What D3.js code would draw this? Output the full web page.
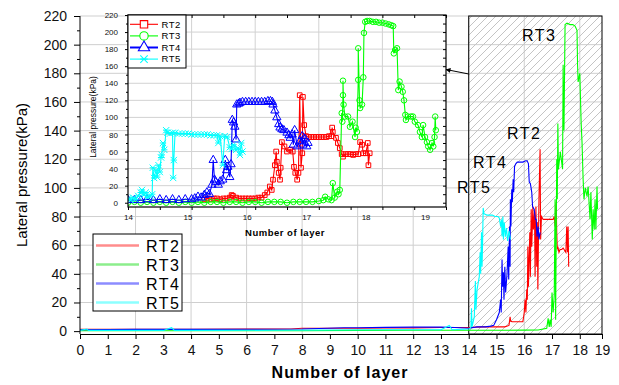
<!DOCTYPE html>
<html>
<head>
<meta charset="utf-8">
<script src="https://cdn.jsdelivr.net/npm/d3@7"></script>
<style>
body { margin: 0; background: #fff; }
svg { font-family: 'Liberation Sans', Arial, sans-serif; }
</style>
</head>
<body>
<svg id="chart" width="619" height="385"></svg>
<script>
// series
var seriesNames = ['RT2', 'RT3', 'RT4', 'RT5'];
var seriesColors = ['#ff0000', '#00ff00', '#0000ff', '#00ffff'];
var legendColors = ['#ff8c8c', '#8cee8c', '#8c8cff', '#8cffff'];
var fontFamily = "'Liberation Sans', Arial, sans-serif";

// main chart: lateral pressure (kPa) vs number of layer
var mainRT2 = [[0,1.3],[2,1.3],[4,1.3],[6,1.4],[7.6,1.5],[8,2],[9,2],[10,2],[11,2.3],[12,2.3],[13,2.5],[14,2.5],
    [14.5,3],[15.0,3],[15.3,3],[15.45,4],[15.49,10],[15.51,7],[15.56,6.6],[15.8,6.6],[15.95,6.6],[16.0,13],[16.03,22],
    [16.06,13],[16.09,29],[16.11,22],[16.13,59],[16.15,31],[16.2,69],[16.22,38],[16.25,85],[16.27,59],[16.31,87],
    [16.33,71],[16.37,83],[16.39,38],[16.42,87],[16.45,45],[16.47,76],[16.49,29],[16.53,92],[16.57,127],[16.59,64],
    [16.62,80],[16.68,78],[16.8,78],[16.9,78],[17.04,78],[17.08,80],[17.11,73],[17.15,90],[17.17,69],[17.19,57],
    [17.21,59],[17.25,55],[17.29,57],[17.35,57],[17.4,58],[17.5,55],[17.53,73],[17.56,55],[17.58,73],[17.6,45]];
var mainRT3 = [[0,0.3],[2,0.3],[4,0.3],[6,0.3],[8,0.3],[10,0.5],[12,0.6],[14,0.6],[15,0.6],[16,0.7],[16.5,0.8],
    [16.81,2],[16.86,9],[16.9,3],[16.93,8],[16.97,3],[17.0,27],[17.04,13],[17.08,25],[17.11,92],[17.13,8],[17.17,120],
    [17.19,92],[17.21,145],[17.23,113],[17.3,125],[17.38,113],[17.4,186],[17.43,140],[17.47,214],[17.54,215],
    [17.65,214],[17.75,214],[17.83,213],[17.9,210],[17.92,186],[17.94,174],[18.0,180],[18.05,145],[18.08,132],
    [18.12,106],[18.15,92],[18.2,100],[18.26,94],[18.3,101],[18.37,78],[18.4,97],[18.45,64],[18.48,85],[18.52,71],
    [18.55,92],[18.58,71],[18.62,101],[18.64,85]];
var mainRT4 = [[0,1],[2,1.2],[4,1.2],[6,1.3],[8,1.5],[9.5,2.4],[10,2.4],[11,2.6],[12,2.8],[13,2.8],[13.5,2.5],[14,2],
    [14.3,3],[14.6,3],[14.8,3.5],[14.9,4],[15.0,8],[15.1,13],[15.15,22],[15.17,13],[15.2,50],[15.22,31],[15.25,41],
    [15.27,22],[15.3,45],[15.33,27],[15.38,40],[15.42,59],[15.44,36],[15.47,73],[15.49,45],[15.5,92],[15.52,73],
    [15.55,99],[15.57,90],[15.6,106],[15.62,97],[15.65,115],[15.7,117],[15.75,118],[15.85,118],[15.95,118],
    [16.05,119],[16.1,119],[16.15,117],[16.18,104],[16.22,103],[16.27,97],[16.3,87],[16.36,85],[16.4,78],
    [16.43,78],[16.46,66],[16.5,73],[16.53,64],[16.57,69]];
var mainRT5 = [[0,0.5],[0.25,1.5],[0.3,0.5],[1,0.5],[3,0.5],[3.3,2.4],[3.4,0.5],[5,0.5],[7,0.6],[9,0.8],[11,1],
    [13,1],[13.3,4],[13.4,1],[14,1.5],[14.05,2],[14.08,3],[14.1,16],[14.12,3],[14.2,10],[14.24,35],[14.26,15],
    [14.3,29],[14.38,38],[14.41,55],[14.43,40],[14.46,69],[14.48,45],[14.5,62],[14.52,86],[14.55,82],[14.65,81],
    [14.75,81],[14.85,81],[14.95,80],[15.05,80],[15.1,79],[15.15,73],[15.18,78],[15.2,66],[15.23,80],[15.25,64],
    [15.28,76],[15.32,66],[15.36,72],[15.4,63],[15.45,70],[15.5,64]];

// inset: close-up of layers 14-19
var insetRT2 = [[15.2,4],[15.25,5],[15.3,4],[15.35,5],[15.4,5],[15.45,4],[15.5,5],[15.55,5],[15.6,6],[15.63,9],
    [15.65,8],[15.7,6],[15.75,5],[15.8,5],[15.85,5],[15.9,5],[15.95,5],[16.0,5],[16.05,6],[16.1,6],[16.15,9],
    [16.19,12],[16.23,19],[16.26,15],[16.28,27],[16.31,44],[16.33,60],[16.34,48],[16.37,35],[16.39,27],[16.4,41],
    [16.42,71],[16.46,66],[16.5,60],[16.55,62],[16.59,60],[16.61,42],[16.63,35],[16.66,27],[16.68,35],[16.7,126],
    [16.72,41],[16.74,58],[16.75,124],[16.77,91],[16.8,78],[16.84,77],[16.88,77],[16.92,77],[16.96,77],[17.0,77],
    [17.04,77],[17.08,77],[17.12,77],[17.16,78],[17.2,78],[17.21,88],[17.22,83],[17.27,76],[17.3,70],[17.33,64],
    [17.36,57],[17.38,54],[17.42,57],[17.46,57],[17.5,57],[17.54,56],[17.58,57],[17.62,57],[17.65,71],[17.68,68],
    [17.7,58],[17.74,58],[17.77,70],[17.78,44],[17.8,58]];
var insetRT3 = [[14.0,0],[14.1,1],[14.2,0],[14.3,1],[14.4,0],[14.5,1],[14.6,0],[14.7,1],[14.8,0],[14.9,1],[15.0,0],
    [15.1,1],[15.2,0],[15.3,1],[15.4,1],[15.5,0],[15.6,1],[15.7,1],[15.8,0],[15.9,1],[16.0,1],[16.1,0],[16.2,1],
    [16.3,1],[16.4,1],[16.5,0],[16.6,1],[16.7,1],[16.8,1],[16.9,1],[17.0,2],[17.07,3],[17.1,7],[17.15,4],[17.2,3],
    [17.22,23],[17.25,6],[17.29,13],[17.31,10],[17.33,15],[17.36,105],[17.37,95],[17.38,126],[17.38,143],
    [17.39,115],[17.41,101],[17.46,101],[17.49,89],[17.53,95],[17.57,77],[17.58,88],[17.6,83],[17.62,144],
    [17.62,181],[17.64,120],[17.65,111],[17.68,115],[17.7,147],[17.71,199],[17.73,212],[17.76,213],[17.8,213],
    [17.85,212],[17.9,212],[17.95,211],[18.0,211],[18.05,210],[18.1,209],[18.14,208],[18.17,207],[18.18,175],
    [18.2,179],[18.23,181],[18.25,132],[18.27,142],[18.3,136],[18.32,130],[18.34,120],[18.36,103],[18.37,97],
    [18.4,101],[18.45,101],[18.48,101],[18.51,95],[18.56,91],[18.59,83],[18.62,77],[18.64,91],[18.67,77],
    [18.7,71],[18.72,66],[18.75,62],[18.78,70],[18.8,66],[18.82,77],[18.83,101],[18.84,85]];
var insetRT4 = [[14.0,3],[14.1,3],[14.2,3],[14.3,4],[14.4,3],[14.5,4],[14.6,3],[14.7,4],[14.8,3],[14.9,4],[15.0,4],
    [15.05,5],[15.1,7],[15.15,6],[15.2,9],[15.24,12],[15.28,10],[15.32,21],[15.34,50],[15.36,27],[15.38,24],
    [15.42,21],[15.45,25],[15.49,27],[15.53,50],[15.55,38],[15.57,42],[15.6,30],[15.62,45],[15.64,97],[15.66,94],
    [15.68,89],[15.7,74],[15.71,115],[15.74,116],[15.76,117],[15.8,118],[15.85,118],[15.9,118],[15.95,118],
    [16.0,118],[16.05,118],[16.1,118],[16.15,118],[16.2,119],[16.24,119],[16.27,118],[16.28,115],[16.31,108],
    [16.34,100],[16.37,92],[16.39,88],[16.42,86],[16.45,85],[16.5,82],[16.53,79],[16.55,76],[16.58,80],[16.6,68],
    [16.62,85],[16.66,66],[16.7,72],[16.74,78],[16.75,68],[16.78,75],[16.81,66],[16.83,70]];
var insetRT5 = [[14.0,5],[14.04,3],[14.08,6],[14.12,4],[14.16,8],[14.2,12],[14.22,15],[14.25,9],[14.28,12],
    [14.31,6],[14.35,8],[14.38,10],[14.39,41],[14.41,29],[14.44,38],[14.46,30],[14.48,44],[14.5,36],[14.52,53],
    [14.53,56],[14.55,70],[14.57,62],[14.6,85],[14.62,82],[14.66,81],[14.7,82],[14.71,29],[14.72,50],[14.74,82],
    [14.8,81],[14.85,81],[14.9,81],[14.95,81],[15.0,80],[15.05,80],[15.1,80],[15.15,80],[15.2,80],[15.25,80],
    [15.3,79],[15.35,79],[15.4,79],[15.42,70],[15.45,78],[15.49,44],[15.52,78],[15.56,77],[15.6,65],[15.63,63],
    [15.66,68],[15.7,62],[15.73,64],[15.76,56],[15.78,70],[15.8,60]];

// ticks
var mainXTicks = [0,1,2,3,4,5,6,7,8,9,10,11,12,13,14,15,16,17,18,18.8];
var mainXTickLabels = ['0','1','2','3','4','5','6','7','8','9','10','11','12','13','14','15','16','17','18','19'];
var mainYTicks = [0,20,40,60,80,100,120,140,160,180,200,220];
var mainXGrid = [2,4,6,8,10,12,14,16,18];
var insetXTicks = [14,15,16,17,18,19];
var insetYTicks = [0,20,40,60,80,100,120,140,160,180,200,220];

var svg = d3.select('#chart');

var x = d3.scaleLinear().domain([0, 18.8]).range([80, 602]);
var y = d3.scaleLinear().domain([-2, 220]).range([334, 16]);

var mainSeries = [mainRT2, mainRT3, mainRT4, mainRT5];
var insetSeries = [insetRT2, insetRT3, insetRT4, insetRT5];

var defs = svg.append('defs');
var hatch = defs.append('pattern')
    .attr('id', 'hatch')
    .attr('patternUnits', 'userSpaceOnUse')
    .attr('width', 8)
    .attr('height', 8);
hatch.append('path')
    .attr('d', 'M-2,2 l4,-4 M0,8 l8,-8 M6,10 l4,-4')
    .attr('stroke', '#c4c4c4')
    .attr('stroke-width', 1);

defs.append('clipPath').attr('id', 'mainClip')
    .append('rect').attr('x', 80).attr('y', 16).attr('width', 522).attr('height', 318);

defs.append('marker')
    .attr('id', 'arrow')
    .attr('viewBox', '0 0 10 10')
    .attr('refX', 9).attr('refY', 5)
    .attr('markerWidth', 7).attr('markerHeight', 5)
    .attr('markerUnits', 'userSpaceOnUse')
    .attr('orient', 'auto')
    .append('path').attr('d', 'M0,0 L10,5 L0,10 z').attr('fill', '#000');

// ---- main chart ----
var grid = svg.append('g').attr('stroke', '#cfcfcf').attr('stroke-width', 1);
grid.selectAll('.hg').data(mainYTicks.slice(1)).enter().append('line')
    .attr('x1', 80).attr('x2', 602)
    .attr('y1', function(d) { return y(d); })
    .attr('y2', function(d) { return y(d); });
grid.selectAll('.vg').data(mainXGrid).enter().append('line')
    .attr('x1', function(d) { return x(d); })
    .attr('x2', function(d) { return x(d); })
    .attr('y1', 16).attr('y2', 334);

// hatched zoom region
svg.append('rect')
    .attr('x', x(14)).attr('y', y(220))
    .attr('width', 602 - x(14)).attr('height', 334 - y(220))
    .attr('fill', 'url(#hatch)')
    .attr('stroke', '#000')
    .attr('stroke-width', 1);

var line = d3.line()
    .x(function(d) { return x(d[0]); })
    .y(function(d) { return y(d[1]); });

var mainLines = svg.append('g').attr('clip-path', 'url(#mainClip)');
mainSeries.forEach(function(s, i) {
    mainLines.append('path').datum(s)
        .attr('d', line)
        .attr('fill', 'none')
        .attr('stroke', seriesColors[i])
        .attr('stroke-width', 1.1);
});

var xAxis = svg.append('g')
    .attr('transform', 'translate(0,334)')
    .call(d3.axisBottom(x).tickValues(mainXTicks)
        .tickFormat(function(d, i) { return mainXTickLabels[i]; })
        .tickSize(5).tickSizeOuter(0).tickPadding(6));
xAxis.selectAll('text').attr('font-size', 14).attr('fill', '#111').attr('font-family', fontFamily);

var yAxis = svg.append('g')
    .attr('transform', 'translate(80,0)')
    .call(d3.axisLeft(y).tickValues(mainYTicks).tickSize(6).tickSizeOuter(0).tickPadding(7));
yAxis.selectAll('text').attr('font-size', 14).attr('fill', '#111').attr('font-family', fontFamily);
yAxis.select('.domain').attr('d', 'M0,' + y(220) + 'V334');
svg.append('g')
    .attr('transform', 'translate(80,0)')
    .call(d3.axisLeft(y).tickValues(mainYTicks.map(function(d) { return d + 10; }).slice(0, 11))
        .tickSize(3).tickFormat(''))
    .select('.domain').remove();

svg.append('text')
    .attr('x', 340).attr('y', 378)
    .attr('text-anchor', 'middle')
    .attr('font-size', 16).attr('font-weight', 'bold')
    .attr('letter-spacing', 1)
    .text('Number of layer');

svg.append('text')
    .attr('transform', 'translate(27,175) rotate(-90)')
    .attr('text-anchor', 'middle')
    .attr('font-size', 15)
    .text('Lateral pressure(kPa)');

// main legend
var legend = svg.append('g');
legend.append('rect')
    .attr('x', 93).attr('y', 234).attr('width', 89).attr('height', 77)
    .attr('fill', '#fff').attr('stroke', '#000');
seriesNames.forEach(function(name, i) {
    var cy = 245.5 + i * 19;
    legend.append('line')
        .attr('x1', 96).attr('x2', 139).attr('y1', cy).attr('y2', cy)
        .attr('stroke', legendColors[i]).attr('stroke-width', 2.5);
    legend.append('text')
        .attr('x', 146).attr('y', cy + 6)
        .attr('font-size', 16).attr('letter-spacing', 1.5)
        .text(name);
});

// curve labels in the hatched region
var curveLabels = [['RT3', 522, 41], ['RT2', 507, 139], ['RT4', 473, 168], ['RT5', 457, 193]];
svg.selectAll('.clabel').data(curveLabels).enter().append('text')
    .attr('x', function(d) { return d[1]; })
    .attr('y', function(d) { return d[2]; })
    .attr('font-size', 16).attr('letter-spacing', 1.5)
    .text(function(d) { return d[0]; });

svg.append('line')
    .attr('x1', x(14)).attr('y1', 74).attr('x2', 446).attr('y2', 69.5)
    .attr('stroke', '#000').attr('stroke-width', 1)
    .attr('marker-end', 'url(#arrow)');

// ---- inset ----
var xi = d3.scaleLinear().domain([14, 19]).range([128, 446]);
var xiLabel = d3.scaleLinear().domain([14, 19]).range([128, 425]);
var yi = d3.scaleLinear().domain([-5, 220]).range([207, 15]);

defs.append('clipPath').attr('id', 'insetClip')
    .append('rect').attr('x', 128).attr('y', 15).attr('width', 318).attr('height', 192);

var inset = svg.append('g');
inset.append('rect')
    .attr('x', 128).attr('y', 15).attr('width', 318).attr('height', 192)
    .attr('fill', '#fff');

var igrid = inset.append('g').attr('stroke', '#d2d2d2').attr('stroke-width', 1);
igrid.selectAll('.hg').data(insetYTicks.slice(1, -1)).enter().append('line')
    .attr('x1', 128).attr('x2', 446)
    .attr('y1', function(d) { return yi(d); })
    .attr('y2', function(d) { return yi(d); });
igrid.selectAll('.vg').data(insetXTicks.slice(1, -1)).enter().append('line')
    .attr('x1', function(d) { return xi(d); })
    .attr('x2', function(d) { return xi(d); })
    .attr('y1', 15).attr('y2', 207);

var iline = d3.line()
    .x(function(d) { return xi(d[0]); })
    .y(function(d) { return yi(d[1]); });

var xMark = {
    draw: function(context, size) {
        var r = Math.sqrt(size) / 2;
        context.moveTo(-r, -r); context.lineTo(r, r);
        context.moveTo(-r, r); context.lineTo(r, -r);
        context.moveTo(-r, 0); context.lineTo(r, 0);
    }
};
var symbols = [
    d3.symbol().type(d3.symbolSquare).size(22),
    d3.symbol().type(d3.symbolCircle).size(24),
    d3.symbol().type(d3.symbolTriangle).size(30),
    d3.symbol().type(xMark).size(40)
];

var insetPlot = inset.append('g').attr('clip-path', 'url(#insetClip)');
insetSeries.forEach(function(s, i) {
    insetPlot.append('path').datum(s)
        .attr('d', iline)
        .attr('fill', 'none')
        .attr('stroke', seriesColors[i])
        .attr('stroke-width', 1.1);
    insetPlot.selectAll('.m' + i).data(s).enter().append('path')
        .attr('transform', function(d) { return 'translate(' + xi(d[0]) + ',' + yi(d[1]) + ')'; })
        .attr('d', symbols[i])
        .attr('fill', 'none')
        .attr('stroke', seriesColors[i])
        .attr('stroke-width', 1);
});

inset.append('rect')
    .attr('x', 128).attr('y', 15).attr('width', 318).attr('height', 192)
    .attr('fill', 'none').attr('stroke', '#000').attr('stroke-width', 1.2);

var halfTicks = d3.range(14, 19.01, 0.5);
inset.append('g')
    .attr('transform', 'translate(0,207)')
    .call(d3.axisBottom(xi).tickValues(halfTicks).tickSize(3).tickFormat(''))
    .select('.domain').remove();
var ixLabels = inset.append('g')
    .attr('transform', 'translate(0,207)')
    .call(d3.axisBottom(xiLabel).tickValues(insetXTicks).tickFormat(d3.format('d'))
        .tickSize(0).tickPadding(7.5));
ixLabels.select('.domain').remove();
ixLabels.selectAll('text').attr('font-size', 8).attr('fill', '#111').attr('font-family', fontFamily);

inset.append('g')
    .attr('transform', 'translate(0,15)')
    .call(d3.axisTop(xi).tickValues(halfTicks).tickSize(-3).tickFormat(''))
    .select('.domain').remove();

var iyAxis = inset.append('g')
    .attr('transform', 'translate(128,0)')
    .call(d3.axisLeft(yi).tickValues(insetYTicks).tickSize(3).tickPadding(7));
iyAxis.select('.domain').remove();
iyAxis.selectAll('text').attr('font-size', 8).attr('fill', '#111').attr('font-family', fontFamily);
inset.append('g')
    .attr('transform', 'translate(128,0)')
    .call(d3.axisLeft(yi).tickValues(insetYTicks.map(function(d) { return d + 10; }).slice(0, 11))
        .tickSize(2).tickFormat(''))
    .select('.domain').remove();
inset.append('g')
    .attr('transform', 'translate(446,0)')
    .call(d3.axisRight(yi).tickValues(d3.range(0, 221, 10)).tickSize(-3).tickFormat(''))
    .select('.domain').remove();

inset.append('text')
    .attr('x', 285).attr('y', 236)
    .attr('text-anchor', 'middle')
    .attr('font-size', 9.5).attr('font-weight', 'bold')
    .attr('letter-spacing', 0.5)
    .text('Number of layer');
inset.append('text')
    .attr('transform', 'translate(96,117) rotate(-90)')
    .attr('text-anchor', 'middle')
    .attr('font-size', 8.5)
    .text('Lateral pressure(kPa)');

// inset legend
var ilegend = inset.append('g');
ilegend.append('rect')
    .attr('x', 128).attr('y', 15).attr('width', 58).attr('height', 53)
    .attr('fill', '#fff').attr('stroke', '#000');
seriesNames.forEach(function(name, i) {
    var cy = 24.3 + i * 11.6;
    ilegend.append('line')
        .attr('x1', 130).attr('x2', 158).attr('y1', cy).attr('y2', cy)
        .attr('stroke', seriesColors[i]).attr('stroke-width', i === 2 ? 2 : 1.1);
    ilegend.append('path')
        .attr('transform', 'translate(144,' + cy + ')')
        .attr('d', d3.symbol().type(i === 3 ? xMark : [d3.symbolSquare, d3.symbolCircle, d3.symbolTriangle][i]).size(55))
        .attr('fill', i === 3 ? 'none' : '#fff')
        .attr('stroke', seriesColors[i]).attr('stroke-width', 1.1);
    ilegend.append('text')
        .attr('x', 161.5).attr('y', cy + 3.3)
        .attr('font-size', 9.5).attr('letter-spacing', 0.5)
        .text(name);
});
</script>
</body>
</html>
